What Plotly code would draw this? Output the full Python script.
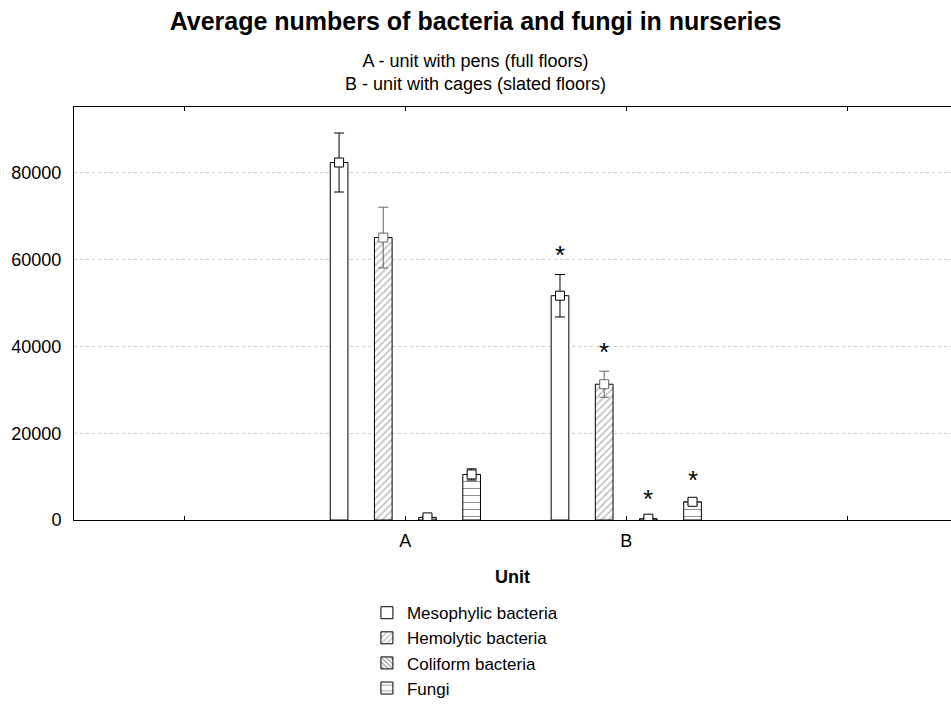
import plotly.graph_objects as go

# ---- data ----
categories = ["A", "B"]
series_names = ["Mesophylic bacteria", "Hemolytic bacteria", "Coliform bacteria", "Fungi"]
mesophylic_mean = [82400, 51700]
mesophylic_err = [6800, 4900]
hemolytic_mean = [65100, 31300]
hemolytic_err = [7000, 3000]
coliform_mean = [600, 300]
coliform_err = [300, 200]
fungi_mean = [10500, 4200]
fungi_err = [1300, 600]
significant = [False, True]  # asterisk marks per unit
x_tick_labels = ["", "A", "B", ""]
y_tick_values = [0, 20000, 40000, 60000, 80000]

means = [mesophylic_mean, hemolytic_mean, coliform_mean, fungi_mean]
errs = [mesophylic_err, hemolytic_err, coliform_err, fungi_err]

FONT = "Liberation Sans, Arial, sans-serif"

styles = [
    dict(color="white", pattern=dict(shape="")),
    dict(color="white", pattern=dict(shape="/", fgcolor="#7a7a7a", size=5, solidity=0.3)),
    dict(color="white", pattern=dict(shape="\\", fgcolor="#222222", size=4, solidity=0.35)),
    dict(color="white", pattern=dict(shape="-", fgcolor="#222222", size=7, solidity=0.15)),
]
err_colors = ["#000000", "#666666", "#000000", "#000000"]

n = len(series_names)
spacing = 0.2
bar_width = 0.08

fig = go.Figure()
for i, name in enumerate(series_names):
    off = (i - (n - 1) / 2) * spacing
    xs = [k + off for k in range(len(categories))]
    fig.add_trace(go.Bar(
        x=xs, y=means[i], width=bar_width, name=name,
        marker=dict(color=styles[i]["color"], pattern=styles[i]["pattern"],
                    line=dict(color="#000000", width=1)),
        hoverinfo="skip",
    ))
for i, name in enumerate(series_names):
    off = (i - (n - 1) / 2) * spacing
    xs = [k + off for k in range(len(categories))]
    fig.add_trace(go.Scatter(
        x=xs, y=means[i], mode="markers", showlegend=False,
        marker=dict(symbol="square", size=9, color="white",
                    line=dict(color=err_colors[i] if i == 1 else "#000000", width=1)),
        error_y=dict(type="data", array=errs[i], color=err_colors[i], thickness=1, width=5),
        hoverinfo="skip",
    ))

# asterisks
for k, sig in enumerate(significant):
    if not sig:
        continue
    for i in range(n):
        off = (i - (n - 1) / 2) * spacing
        fig.add_annotation(
            x=k + off, y=means[i][k] + errs[i][k], text="*", showarrow=False,
            yanchor="bottom", yshift=2,
            font=dict(family=FONT, size=26, color="#000000"),
        )

fig.update_layout(
    width=951, height=707,
    margin=dict(l=74, r=0, t=107, b=187),
    paper_bgcolor="white", plot_bgcolor="white",
    font=dict(family=FONT, color="#000000"),
    title=dict(
        text="<b>Average numbers of bacteria and fungi in nurseries</b>",
        x=0.5, xref="container", xanchor="center",
        y=1 - 21 / 707, yref="container", yanchor="middle",
        font=dict(family=FONT, size=25),
    ),
    showlegend=True,
    legend=dict(
        x=0.334, y=-0.182, xanchor="left", yanchor="top",
        font=dict(family=FONT, size=17), bgcolor="rgba(0,0,0,0)",
        itemwidth=30, tracegroupgap=0,
    ),
    barmode="overlay",
)
fig.add_annotation(
    text="A - unit with pens (full floors)<br>B - unit with cages (slated floors)",
    xref="paper", yref="paper", x=(475 - 74) / 877, y=1 + (107 - 72) / 413,
    xanchor="center", yanchor="middle", showarrow=False,
    font=dict(family=FONT, size=18),
)
fig.update_xaxes(
    range=[-1.5, 2.47], tickmode="array", tickvals=[-1, 0, 1, 2], ticktext=x_tick_labels,
    ticks="inside", ticklen=4, tickcolor="#000000", showline=True, linecolor="#000000",
    linewidth=1, mirror="ticks", showgrid=False, zeroline=False,
    tickfont=dict(family=FONT, size=18), ticklabelstandoff=4,
    title=dict(text="<b>Unit</b>", font=dict(family=FONT, size=18), standoff=20),
)
fig.update_yaxes(
    range=[0, 95200], tickmode="array", tickvals=y_tick_values, tickformat="d",
    showline=True, linecolor="#000000", linewidth=1, mirror=False,
    showgrid=True, gridcolor="#cccccc", griddash="dot", gridwidth=1,
    zeroline=False, ticks="", tickfont=dict(family=FONT, size=18), ticklabelstandoff=8,
)

fig.write_html("out.html", config={"displayModeBar": False},
               post_script="document.body.style.margin='0';")
